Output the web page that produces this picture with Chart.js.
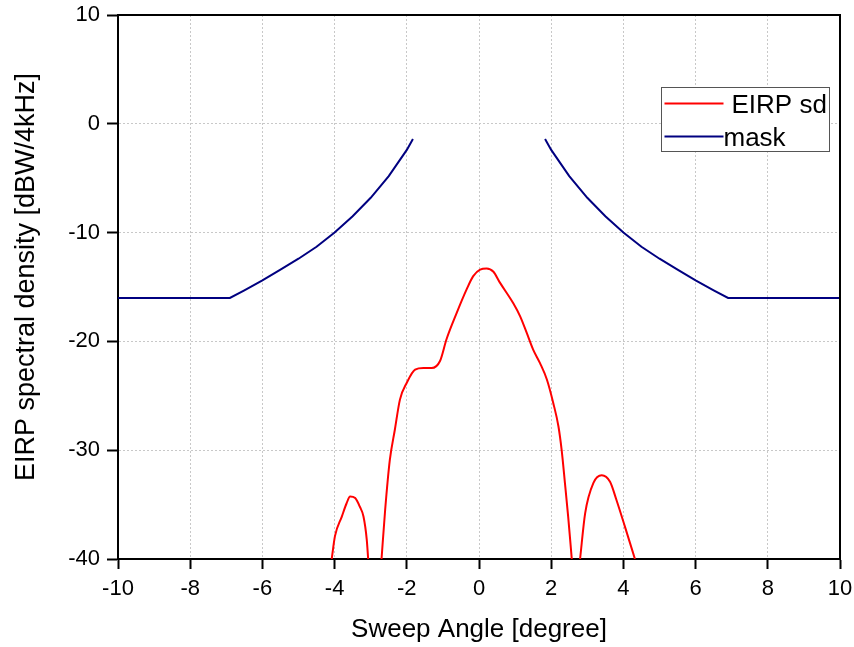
<!DOCTYPE html>
<html>
<head>
<meta charset="utf-8">
<script src="https://cdn.jsdelivr.net/npm/chart.js@4/dist/chart.umd.min.js"></script>
<style>
html,body{margin:0;padding:0;background:#fff;}
#wrap{width:854px;height:647px;position:relative;}
</style>
</head>
<body>
<div id="wrap"><canvas id="c" width="854" height="647"></canvas></div>
<script>
// ---- data ----
const xTickValues = [-10, -8, -6, -4, -2, 0, 2, 4, 6, 8, 10];
const yTickValues = [-40, -30, -20, -10, 0, 10];
const xAxisTitle = 'Sweep Angle [degree]';
const yAxisTitle = 'EIRP spectral density [dBW/4kHz]';
const seriesNames = ['EIRP sd', 'mask'];

// mask (null = break in the line)
const maskAngles = [-10, -6.9, -6.5, -6, -5.5, -5, -4.5, -4, -3.5, -3, -2.5, -2, -1.83,
                    0,
                    1.83, 2, 2.5, 3, 3.5, 4, 4.5, 5, 5.5, 6, 6.5, 6.9, 10];
const maskValues = [-16, -16, -15.3, -14.4, -13.4, -12.4, -11.3, -10.0, -8.5, -6.8, -4.8, -2.4, -1.4,
                    null,
                    -1.4, -2.4, -4.8, -6.8, -8.5, -10.0, -11.3, -12.4, -13.4, -14.4, -15.3, -16, -16];

// EIRP spectral density (null = below the plotted range)
const eirpAngles = [-4.08, -3.99, -3.80, -3.67, -3.57, -3.43, -3.30, -3.20, -3.11, -3.07,
                    -2.9,
                    -2.70, -2.60, -2.47, -2.33, -2.19, -2.00, -1.77, -1.54, -1.31, -1.08, -0.90, -0.62, -0.34, -0.16,
                    0.03, 0.21, 0.40, 0.58, 0.95, 1.14, 1.32, 1.50, 1.69, 1.88, 2.06, 2.20, 2.29, 2.38, 2.47, 2.57,
                    2.7,
                    2.80, 2.94, 3.17, 3.40, 3.63, 3.81, 4.04, 4.32];
const eirpValues = [-40, -37.9, -36.1, -34.9, -34.25, -34.4, -35.2, -36.1, -38.2, -40,
                    null,
                    -40, -35.5, -30.9, -28.1, -25.35, -23.8, -22.6, -22.45, -22.45, -21.8, -19.8, -17.4, -15.2, -14.0,
                    -13.4, -13.3, -13.6, -14.6, -16.5, -17.7, -19.2, -20.75, -22.0, -23.5, -25.7, -27.8, -30.0, -33.0, -36.1, -40,
                    null,
                    -40, -35.8, -33.0, -32.3, -32.9, -34.6, -37.0, -40];

const toPoints = (xs, ys) => xs.map((x, i) => ({x: x, y: ys[i]}));

const FONT = '"Liberation Sans", Arial, sans-serif';

const frameAndLegend = {
  id: 'frameAndLegend',
  afterDatasetsDraw(chart) {
    const {ctx, chartArea: a} = chart;
    ctx.save();
    // top & right frame lines
    ctx.strokeStyle = '#000';
    ctx.lineWidth = 2;
    ctx.beginPath();
    ctx.moveTo(a.left - 1, a.top);
    ctx.lineTo(a.right, a.top);
    ctx.lineTo(a.right, a.bottom + 1);
    ctx.stroke();

    // y axis title
    ctx.fillStyle = '#000';
    ctx.font = '27px ' + FONT;
    ctx.textAlign = 'center';
    ctx.textBaseline = 'middle';
    ctx.translate(a.left - 91, (a.top + a.bottom) / 2 - 10);
    ctx.rotate(-Math.PI / 2);
    ctx.fillText(yAxisTitle, 0, 0);
    ctx.setTransform(1, 0, 0, 1, 0, 0);

    // legend box
    const bx = a.right - 178.5, by = a.top + 72.5, bw = 168, bh = 64;
    ctx.fillStyle = '#fff';
    ctx.fillRect(bx, by, bw, bh);
    ctx.strokeStyle = '#555';
    ctx.lineWidth = 1;
    ctx.strokeRect(bx, by, bw, bh);

    const ds = chart.data.datasets;
    ctx.font = '26px ' + FONT;
    ctx.textBaseline = 'alphabetic';
    ctx.textAlign = 'left';
    const rows = [
      {y: by + 16, textX: bx + 70, baseY: by + 25},
      {y: by + 49, textX: bx + 62, baseY: by + 58}
    ];
    ds.forEach((d, i) => {
      const r = rows[i];
      ctx.strokeStyle = d.borderColor;
      ctx.lineWidth = 2;
      ctx.beginPath();
      ctx.moveTo(bx + 3, r.y);
      ctx.lineTo(bx + 62, r.y);
      ctx.stroke();
      ctx.fillStyle = '#000';
      ctx.fillText(d.label, r.textX, r.baseY);
    });
    ctx.restore();
  }
};

new Chart(document.getElementById('c'), {
  type: 'scatter',
  data: {
    datasets: [
      {
        label: seriesNames[0],
        data: toPoints(eirpAngles, eirpValues),
        showLine: true,
        borderColor: '#ff0000',
        backgroundColor: '#ff0000',
        borderWidth: 2,
        pointRadius: 0,
        cubicInterpolationMode: 'monotone',
        spanGaps: false
      },
      {
        label: seriesNames[1],
        data: toPoints(maskAngles, maskValues),
        showLine: true,
        borderColor: '#000080',
        backgroundColor: '#000080',
        borderWidth: 2,
        pointRadius: 0,
        tension: 0,
        spanGaps: false
      }
    ]
  },
  options: {
    responsive: false,
    animation: false,
    devicePixelRatio: 1,
    layout: {padding: {left: 0, right: 14, top: 15, bottom: 0}},
    plugins: {legend: {display: false}, tooltip: {enabled: false}},
    scales: {
      x: {
        type: 'linear',
        min: -10, max: 10,
        afterBuildTicks: s => { s.ticks = xTickValues.map(v => ({value: v})); },
        afterFit: s => { s.height = 88; s.paddingLeft = 0; s.paddingRight = 0; },
        ticks: {
          color: '#000',
          font: {family: FONT, size: 22},
          padding: 7,
          maxRotation: 0,
          autoSkip: false,
          callback: v => String(v)
        },
        grid: {
          color: '#c8c8c8',
          lineWidth: 1,
          tickLength: 10,
          tickColor: '#000',
          tickWidth: 2
        },
        border: {display: true, color: '#000', width: 2, dash: [2, 2]},
        title: {
          display: true,
          text: xAxisTitle,
          color: '#000',
          font: {family: FONT, size: 26},
          padding: {top: 0, bottom: 2}
        }
      },
      y: {
        type: 'linear',
        min: -40, max: 10,
        afterBuildTicks: s => { s.ticks = yTickValues.map(v => ({value: v})); },
        afterFit: s => { s.width = 118; s.paddingTop = 0; s.paddingBottom = 0; },
        ticks: {
          color: '#000',
          font: {family: FONT, size: 22},
          padding: 7,
          autoSkip: false,
          callback: v => String(v)
        },
        grid: {
          color: '#c8c8c8',
          lineWidth: 1,
          tickLength: 11,
          tickColor: '#000',
          tickWidth: 2
        },
        border: {display: true, color: '#000', width: 2, dash: [2, 2]},
        title: {display: false}
      }
    }
  },
  plugins: [frameAndLegend]
});
</script>
</body>
</html>
